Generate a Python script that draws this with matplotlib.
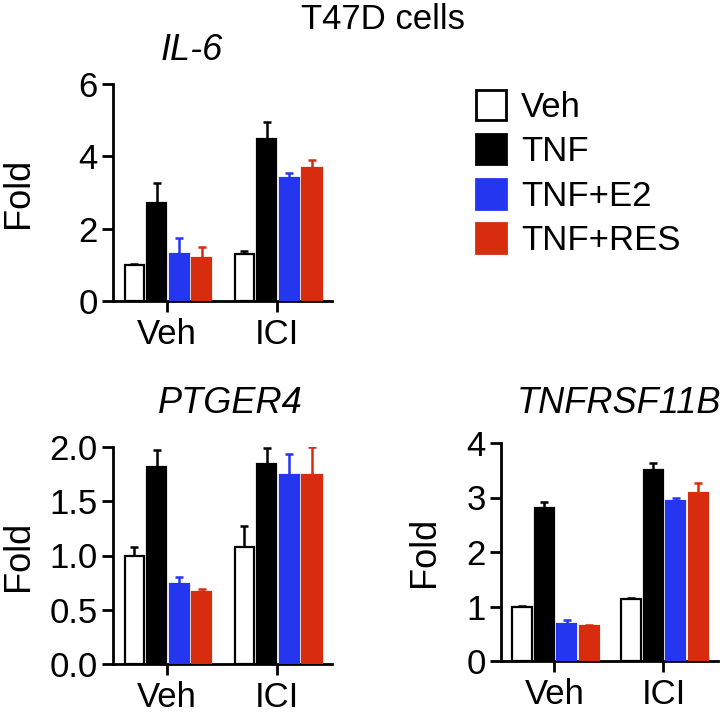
import matplotlib as mpl
mpl.use('Agg')

import numpy as np
import matplotlib.pyplot as plt
from matplotlib.patches import Patch

plt.rcParams['font.family'] = ['Liberation Sans', 'DejaVu Sans']

groups = ["Veh", "ICI"]
treatments = ["Veh", "TNF", "TNF+E2", "TNF+RES"]
colors = ["white", "black", "#2536f0", "#d82c0e"]

# mean / upper error, rows = groups (Veh, ICI), cols = treatments
il6_mean = [[1.0, 2.71, 1.31, 1.19], [1.31, 4.47, 3.40, 3.67]]
il6_err = [[0.03, 0.56, 0.42, 0.30], [0.08, 0.47, 0.15, 0.23]]
ptger4_mean = [[1.0, 1.82, 0.74, 0.66], [1.08, 1.84, 1.74, 1.74]]
ptger4_err = [[0.08, 0.15, 0.06, 0.03], [0.19, 0.15, 0.20, 0.26]]
tnfrsf_mean = [[1.0, 2.80, 0.67, 0.65], [1.13, 3.50, 2.93, 3.08]]
tnfrsf_err = [[0.01, 0.12, 0.08, 0.01], [0.02, 0.14, 0.06, 0.19]]

W, H = 722, 717
fig = plt.figure(figsize=(W / 100, H / 100), dpi=100)


def panel(rect, mean, err, ylim, yticks, yticklabels, label_x):
    ax = fig.add_axes(rect)
    x = np.arange(len(groups))
    offsets = (np.arange(4) - 1.5) * 0.205 + 0.01
    mean = np.array(mean)
    err = np.array(err)
    for i in range(4):
        ec = "black" if colors[i] in ("white", "black") else colors[i]
        ax.bar(x + offsets[i], mean[:, i], width=0.175, color=colors[i],
               edgecolor=ec, linewidth=1.6, zorder=3)
        ax.errorbar(x + offsets[i], mean[:, i], yerr=[np.zeros(2), err[:, i]],
                    fmt='none', ecolor=ec, elinewidth=1.8, capsize=3.2,
                    capthick=1.8, zorder=2)
    ax.set_xlim(-0.49, 1.5)
    ax.set_ylim(*ylim)
    ax.set_yticks(yticks)
    ax.set_yticklabels(yticklabels)
    ax.set_xticks(x)
    ax.set_xticklabels(groups)
    for s in ["top", "right"]:
        ax.spines[s].set_visible(False)
    for s in ["left", "bottom"]:
        ax.spines[s].set_linewidth(2)
    ax.tick_params(axis='both', width=2, length=8, labelsize=25, pad=3)
    ax.tick_params(axis='x', pad=4)
    ax.set_ylabel("Fold", fontsize=26)
    ax.yaxis.set_label_coords(label_x, 0.5)
    return ax


panel([113 / W, 1 - 301 / H, 219 / W, 217 / H], il6_mean, il6_err,
      (0, 6), [0, 2, 4, 6], ["0", "2", "4", "6"], -0.35)
panel([113 / W, 1 - 664 / H, 219 / W, 217 / H], ptger4_mean, ptger4_err,
      (0, 2), [0, 0.5, 1.0, 1.5, 2.0], ["0.0", "0.5", "1.0", "1.5", "2.0"], -0.35)
panel([501 / W, 1 - 661 / H, 217 / W, 218 / H], tnfrsf_mean, tnfrsf_err,
      (0, 4), [0, 1, 2, 3, 4], ["0", "1", "2", "3", "4"], -0.27)

fig.text(383 / W, 1 - 29 / H, "T47D cells", fontsize=25, ha='center', va='baseline')
fig.text(192 / W, 1 - 60 / H, "IL-6", fontsize=26, style='italic', ha='center', va='baseline')
fig.text(230 / W, 1 - 413 / H, "PTGER4", fontsize=26, style='italic', ha='center', va='baseline')
fig.text(619 / W, 1 - 413 / H, "TNFRSF11B", fontsize=26, style='italic', ha='center', va='baseline')

handles = [Patch(facecolor=c, edgecolor="black" if c in ("white", "black") else c,
                 linewidth=2) for c in colors]
fig.legend(handles, treatments, loc='upper left', bbox_to_anchor=(476 / W, 1 - 90 / H),
           frameon=False, fontsize=25, handlelength=0.85, handleheight=0.95,
           handletextpad=0.45, labelspacing=0.3, borderpad=0, borderaxespad=0)

plt.savefig("out.png", dpi=100)
